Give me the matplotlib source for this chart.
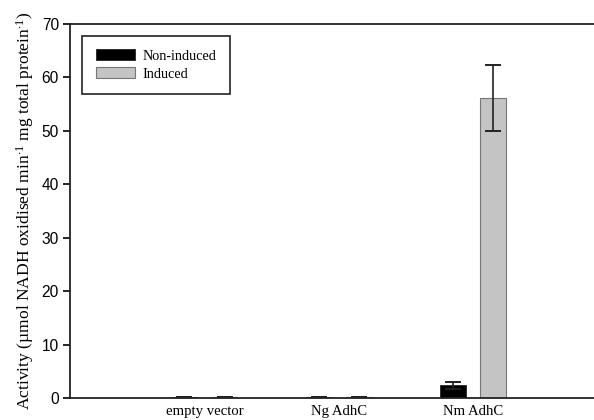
import numpy as np
import matplotlib
matplotlib.use("Agg")
import matplotlib.pyplot as plt

plt.rcParams['mathtext.fontset'] = 'custom'
plt.rcParams['mathtext.rm'] = 'Liberation Serif'
plt.rcParams['mathtext.it'] = 'Liberation Serif:italic'

# data
groups = ["empty vector", "Ng AdhC", "Nm AdhC"]
non_induced = [0.15, 0.2, 2.4]
non_induced_err = [0.0, 0.0, 0.6]
induced = [0.2, 0.15, 56.2]
induced_err = [0.0, 0.0, 6.2]

x = np.arange(1, len(groups) + 1)
w = 0.19

fig = plt.figure(figsize=(5.94, 4.2), dpi=100)
ax = fig.add_axes([0.118, 0.052, 0.882, 0.891])

ax.bar(x - 0.15, non_induced, w, color="black", edgecolor="#222222", linewidth=0.6,
       label="Non-induced")
ax.bar(x + 0.15, induced, w, color="#c4c4c4", edgecolor="#777777", linewidth=0.8,
       label="Induced")
ax.errorbar(x - 0.15, non_induced, yerr=non_induced_err, fmt="none", ecolor="#222222",
            elinewidth=1.2, capsize=6, capthick=1.4)
ax.errorbar(x + 0.15, induced, yerr=induced_err, fmt="none", ecolor="#222222",
            elinewidth=1.2, capsize=6, capthick=1.4)

ax.set_xlim(0, 3.9)
ax.set_ylim(0, 70)
ax.set_yticks(range(0, 71, 10))
ax.set_xticks(x)
ax.set_xticklabels(groups, fontfamily="Liberation Serif", fontsize=10.6)
ax.tick_params(axis="x", length=0, pad=5)
ax.tick_params(axis="y", length=5, width=1.2, labelsize=11.2, pad=3)
for lab in ax.get_yticklabels():
    lab.set_fontfamily("Liberation Sans")

ax.spines["right"].set_visible(False)
for s in ["left", "bottom", "top"]:
    ax.spines[s].set_linewidth(1.3)
    ax.spines[s].set_color("#222222")

ax.set_ylabel("Activity (\u00b5mol NADH oxidised min$^{\\cdot 1}$ mg total protein$^{\\cdot 1}$)",
              fontfamily="Liberation Serif", fontsize=12.6, labelpad=4)

leg = ax.legend(loc="upper left", bbox_to_anchor=(0.023, 0.968), borderaxespad=0,
                fancybox=False, framealpha=1, edgecolor="#222222",
                prop={"family": "Liberation Serif", "size": 10.2},
                handlelength=2.8, handleheight=0.75, borderpad=0.95, labelspacing=0.35,
                handletextpad=0.5)
leg.get_frame().set_linewidth(1.2)

plt.savefig("out.png", dpi=100)
